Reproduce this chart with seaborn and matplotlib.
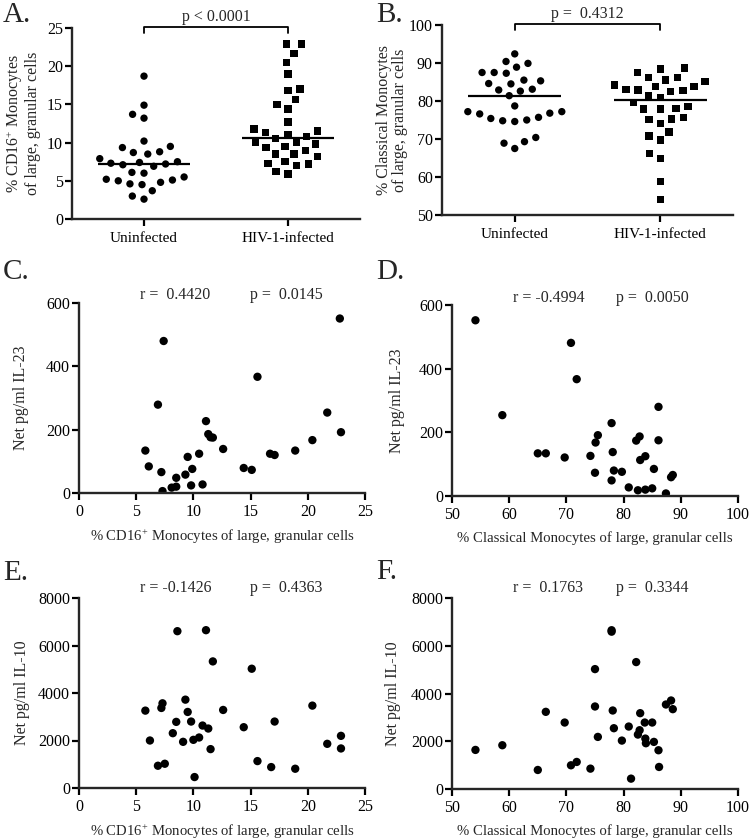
import numpy as np
import matplotlib
matplotlib.use('Agg')
import matplotlib.pyplot as plt
import seaborn as sns

groups = ['Uninfected', 'HIV-1-infected']

# A. % CD16+ monocytes of large, granular cells
cd16_uninf = [18.7, 14.9, 13.7, 13.2, 10.2, 9.35, 9.5, 8.7, 8.8, 8.5, 7.4, 7.2, 7.9,
              6.9, 7.5, 7.1, 7.3, 6.0, 6.1, 5.2, 5.0, 5.1, 5.5, 4.6, 4.5, 4.8, 3.7,
              3.0, 2.6]
cd16_hiv = [22.9, 22.9, 21.7, 20.5, 19.0, 16.8, 17.0, 15.6, 15.0, 14.4, 12.7, 11.5,
            11.1, 11.3, 11.8, 10.8, 10.5, 10.1, 10.0, 9.5, 9.0, 9.4, 9.8, 8.5, 8.2,
            8.5, 7.3, 7.0, 7.5, 7.2, 5.9, 6.2]

# B. % classical monocytes of large, granular cells
classical_uninf = [92.4, 89.9, 90.4, 88.9, 87.5, 87.3, 87.5, 85.3, 85.5, 84.5, 84.6,
                   82.9, 83.1, 82.6, 81.4, 78.7, 77.2, 77.2, 76.6, 76.8, 75.4, 74.8,
                   74.6, 75.0, 75.7, 69.3, 68.9, 70.4, 67.5]
classical_hiv = [88.4, 88.7, 87.5, 86.2, 86.2, 83.8, 85.5, 85.1, 82.9, 82.5, 84.2,
                 83.8, 83.1, 82.7, 81.0, 81.3, 79.6, 78.5, 77.9, 77.9, 78.1, 75.3,
                 74.1, 75.2, 75.7, 70.8, 69.7, 71.8, 66.2, 64.9, 58.8, 54.0]

# C. CD16+ vs IL-23
c_cd16 = [5.8, 6.1, 7.2, 7.3, 6.9, 7.4, 8.1, 8.5, 8.5, 9.3, 9.5, 9.8, 9.9, 10.5, 10.8,
          11.1, 11.3, 11.5, 11.7, 12.6, 14.4, 15.1, 15.6, 16.7, 17.1, 18.9, 20.4,
          21.7, 22.8, 22.9]
c_il23 = [134, 84, 66, 6, 279, 480, 17, 20, 48, 58, 114, 24, 76, 124, 27, 227, 186,
          176, 175, 139, 79, 73, 367, 124, 120, 134, 167, 254, 551, 192]

# D. classical vs IL-23
d_classical = [54.1, 58.8, 65.0, 66.4, 69.7, 70.8, 71.8, 74.2, 75.0, 75.1, 75.5, 77.9,
               77.9, 78.1, 78.3, 79.7, 80.9, 82.2, 82.5, 82.8, 82.9, 83.8, 83.8, 85.0,
               85.3, 86.1, 86.1, 87.4, 88.3, 88.6]
d_il23 = [552, 254, 134, 134, 121, 481, 367, 126, 73, 168, 191, 49, 229, 138, 80, 76,
          27, 174, 18, 187, 113, 20, 125, 24, 85, 280, 175, 8, 59, 66]

# E. CD16+ vs IL-10
e_cd16 = [5.8, 6.2, 6.9, 7.2, 7.3, 7.5, 8.2, 8.5, 8.6, 9.1, 9.3, 9.5, 9.8, 10.0, 10.1,
          10.5, 10.8, 11.1, 11.3, 11.5, 11.7, 12.6, 14.4, 15.1, 15.6, 16.8, 17.1, 18.9,
          20.4, 21.7, 22.9, 22.9]
e_il10 = [3258, 2000, 937, 3370, 3566, 1021, 2308, 2784, 6603, 1944, 3720, 3202, 2798,
          2028, 461, 2126, 2630, 6645, 2504, 1637, 5330, 3286, 2560, 5022, 1133, 881,
          2798, 811, 3469, 1860, 1665, 2196]

# F. classical vs IL-10
f_classical = [54.1, 58.8, 65.0, 66.4, 69.7, 70.8, 71.8, 74.2, 75.0, 75.0, 75.5, 77.9,
               77.9, 78.1, 78.3, 79.7, 80.9, 81.3, 82.2, 82.5, 82.8, 82.9, 83.7, 83.8,
               83.9, 85.0, 85.3, 86.1, 86.2, 87.4, 88.3, 88.6]
f_il10 = [1637, 1833, 797, 3232, 2784, 993, 1133, 853, 5022, 3456, 2182, 6650, 6590,
          3288, 2546, 2028, 2616, 434, 5316, 2280, 2462, 3176, 2784, 2112, 1917, 2784,
          1973, 1623, 923, 3539, 3707, 3344]

sns.set_style('ticks')
plt.rcParams['font.family'] = ['Liberation Serif', 'DejaVu Serif']
plt.rcParams['mathtext.fontset'] = 'custom'
plt.rcParams['mathtext.rm'] = 'Liberation Serif'
plt.rcParams['mathtext.it'] = 'Liberation Serif:italic'
plt.rcParams['mathtext.bf'] = 'Liberation Serif:bold'

FS = 11.5
W, H = 750, 840
fig = plt.figure(figsize=(W / 100, H / 100), dpi=100)


def ax_at(l, t, r, b):
    return fig.add_axes([l / W, 1 - b / H, (r - l) / W, (b - t) / H])


def style(ax):
    sns.despine(ax=ax)
    for s in ['left', 'bottom']:
        ax.spines[s].set_linewidth(1.7)
    ax.tick_params(width=1.6, length=5, labelsize=FS, pad=1.5, colors='black')
    ax.tick_params(axis='x', pad=3)


def dot_panel(ax, uninf, hiv, ylim, step, ylabel, ptext, labelpad):
    for vals, grp, mk in zip([uninf, hiv], groups, ['o', 's']):
        sns.swarmplot(x=[grp] * len(vals), y=vals, order=groups, ax=ax, marker=mk,
                      color='black', size=5.3, linewidth=3.0, edgecolor='none',
                      legend=False, warn_thresh=1)
    for i, vals in enumerate([uninf, hiv]):
        ax.hlines(np.median(vals), i - 0.32, i + 0.32, color='black', lw=1.6, zorder=5)
    ax.set_xlim(-0.5, 1.5)
    ax.set_ylim(*ylim)
    ax.set_yticks(np.arange(ylim[0], ylim[1] + 1, step))
    style(ax)
    ax.tick_params(axis='x', pad=4, labelsize=11)
    ax.set_ylabel(ylabel, fontsize=FS, labelpad=labelpad, linespacing=1.0)
    span = ylim[1] - ylim[0]
    top = ylim[1] + span * 0.003
    leg = ylim[1] - span * 0.028
    ax.plot([0, 0, 1, 1], [leg, top, top, leg], color='black', lw=1.3, clip_on=False)
    ax.text(0.5, top + span * 0.012, ptext, ha='center', va='bottom', fontsize=FS)


def scatter_panel(ax, x, y, xlim, xstep, ylim, ystep, xlabel, ylabel, rtext, ptext,
                  px, ty, labelpad):
    sns.scatterplot(x=x, y=y, ax=ax, color='black', s=36, edgecolor='none', legend=False)
    ax.set_xlim(*xlim)
    ax.set_ylim(*ylim)
    ax.set_xticks(np.arange(xlim[0], xlim[1] + 1, xstep))
    ax.set_yticks(np.arange(ylim[0], ylim[1] + 1, ystep))
    style(ax)
    ax.set_xlabel(xlabel, fontsize=10.6, labelpad=5.5)
    ax.set_ylabel(ylabel, fontsize=FS, labelpad=labelpad)
    ax.text(0.213, ty, rtext, transform=ax.transAxes, ha='left', va='center', fontsize=FS)
    ax.text(px, ty, ptext, transform=ax.transAxes, ha='left', va='center', fontsize=FS)


cd16_label = '% CD16$^{+}$ Monocytes of large, granular cells'
classical_label = '% Classical Monocytes of large, granular cells'

axA = ax_at(72, 28, 360, 219)
dot_panel(axA, cd16_uninf, cd16_hiv, (0, 25), 5,
          '% CD16$^{+}$ Monocytes\nof large, granular cells', 'p < 0.0001', 4)

axB = ax_at(442, 25, 733, 215)
dot_panel(axB, classical_uninf, classical_hiv, (50, 100), 10,
          '% Classical Monocytes\nof large, granular cells', 'p =  0.4312', 1)

axC = ax_at(79, 303, 365, 493)
scatter_panel(axC, c_cd16, c_il23, (0, 25), 5, (0, 600), 200, cd16_label,
              'Net pg/ml IL-23', 'r =  0.4420', 'p =  0.0145', 0.598, 1.04, 12)

axD = ax_at(452, 305, 738, 496)
scatter_panel(axD, d_classical, d_il23, (50, 100), 10, (0, 600), 200, classical_label,
              'Net pg/ml IL-23', 'r = -0.4994', 'p =  0.0050', 0.573, 1.037, 10)

axE = ax_at(79, 598, 365, 788)
scatter_panel(axE, e_cd16, e_il10, (0, 25), 5, (0, 8000), 2000, cd16_label,
              'Net pg/ml IL-10', 'r = -0.1426', 'p =  0.4363', 0.598, 1.053, 6)

axF = ax_at(452, 598, 738, 789)
scatter_panel(axF, f_classical, f_il10, (50, 100), 10, (0, 8000), 2000, classical_label,
              'Net pg/ml IL-10', 'r =  0.1763', 'p =  0.3344', 0.573, 1.052, 7)

for letter, x, y in [('A.', 3, 15), ('B.', 376, 15), ('C.', 3, 272),
                     ('D.', 376, 272), ('E.', 3, 573), ('F.', 376, 572)]:
    fig.text(x / W, 1 - y / H, letter, fontsize=21, ha='left', va='center')

fig.savefig('out.png', dpi=100)
